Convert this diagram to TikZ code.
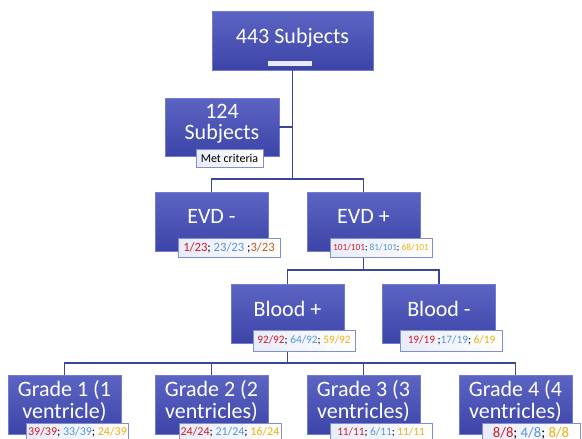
\documentclass[tikz,border=0pt]{standalone}
\usepackage{fontspec}
\setmainfont{Carlito}
\usetikzlibrary{positioning}
\definecolor{boxtop}{RGB}{92,100,195}
\definecolor{boxbot}{RGB}{60,68,168}
\definecolor{boxrim}{RGB}{112,124,208}
\definecolor{linkblue}{RGB}{58,70,150}
\definecolor{tagrim}{RGB}{128,142,212}
\definecolor{tagtint}{RGB}{232,236,250}
\definecolor{cntred}{RGB}{210,28,36}
\definecolor{cntblue}{RGB}{86,150,215}
\definecolor{cntgold}{RGB}{238,178,10}
\definecolor{cntrust}{RGB}{196,92,22}
\newcommand{\numred}[1]{\textcolor{cntred}{#1}}
\newcommand{\numblue}[1]{\textcolor{cntblue}{#1}}
\newcommand{\numgold}[1]{\textcolor{cntgold}{#1}}
\newcommand{\numrust}[1]{\textcolor{cntrust}{#1}}
\newcommand{\liftstrut}{\rule[-0.45em]{0pt}{1.1em}}

\begin{document}
\begin{tikzpicture}[
    x=0.75pt, y=-0.75pt,
    sbox/.style={draw=boxrim, line width=0.6pt, top color=boxtop, bottom color=boxbot,
                 text=white, font=\fontsize{16.5}{16}\selectfont, align=center,
                 minimum width=84.75pt, minimum height=44.25pt, inner sep=1pt,
                 execute at end node=\liftstrut},
    tag/.style={draw=tagrim, line width=0.6pt, left color=tagtint, right color=white,
                minimum width=76.5pt, minimum height=14.25pt, inner sep=0pt},
    link/.style={draw=linkblue, line width=0.8pt}
  ]
    \useasboundingbox (0,0) rectangle (582,439);
    \clip (0,0) rectangle (582,439);

    % boxes of the tree
    \node[sbox, minimum width=120.75pt] (total)  at (292.5,40.5) {443 Subjects};
    \node[sbox, minimum width=85.5pt, minimum height=43.5pt] (met) at (222,127) {124\\Subjects};
    \node[sbox] (evdn)  at (211.5,221.5) {EVD -};
    \node[sbox] (evdp)  at (363.5,221.5) {EVD +};
    \node[sbox] (bldp)  at (287.5,313.5) {Blood +};
    \node[sbox] (bldn)  at (439,313.5)   {Blood -};
    \node[sbox] (grade1) at (64.5,404.5)  {Grade 1 (1\\ventricle)};
    \node[sbox] (grade2) at (211.5,404.5) {Grade 2 (2\\ventricles)};
    \node[sbox] (grade3) at (363.5,404.5) {Grade 3 (3\\ventricles)};
    \node[sbox] (grade4) at (515.5,404.5) {Grade 4 (4\\ventricles)};
    \node[fill=tagtint, minimum width=33pt, minimum height=3.75pt, inner sep=0pt] (bar) at (290,63.5) {};

    % connectors
    \coordinate (split1) at (292.5,179);
    \coordinate (split2) at (363.5,270);
    \coordinate (split3) at (287.5,363);
    \draw[link] (total.south) -- (split1);
    \draw[link] (met.east) -- (met.east -| total.south);
    \draw[link] (evdn.north) |- (split1) -| (evdp.north);
    \draw[link] (evdp.south) -- (split2);
    \draw[link] (bldp.north) |- (split2) -| (bldn.north);
    \draw[link] (bldp.south) -- (split3);
    \draw[link] (grade1.north) |- (split3) -| (grade4.north);
    \foreach \g in {grade2, grade3}
      \draw[link] (\g.north) |- (split3);

    % count tags
    \node[tag, minimum width=50.25pt, minimum height=13.5pt, fill=white, font=\fontsize{9}{9}\selectfont]
      (metnote) at (229.5,158) {Met criteria};
    \node[tag, font=\fontsize{9.5}{9.5}\selectfont] (evdntag) at (229,247.5)
      {\numred{1/23}; \numblue{23/23} ;\numrust{3/23}};
    \node[tag, font=\fontsize{7}{7}\selectfont] (evdptag) at (381,247.5)
      {\numred{101/101}; \numblue{81/101}; \numgold{68/101}};
    \node[tag, minimum height=15.75pt, font=\fontsize{8.5}{8.5}\selectfont] (bldptag) at (304,340.5)
      {\numred{92/92}; \numblue{64/92}; \numgold{59/92}};
    \node[tag, minimum height=15.75pt, font=\fontsize{8.5}{8.5}\selectfont] (bldntag) at (451.5,340.5)
      {\numred{19/19} ;\numblue{17/19}; \numgold{6/19}};
    \node[tag, font=\fontsize{9}{9}\selectfont] (grade1tag) at (77.5,432.5)
      {\numred{39/39}; \numblue{33/39}; \numgold{24/39}};
    \node[tag, font=\fontsize{9}{9}\selectfont] (grade2tag) at (230,432.5)
      {\numred{24/24}; \numblue{21/24}; \numgold{16/24}};
    \node[tag, font=\fontsize{8.5}{8.5}\selectfont] (grade3tag) at (381,432.5)
      {\numred{11/11}; \numblue{6/11}; \numgold{11/11}};
    \node[tag, minimum width=73.5pt, font=\fontsize{11}{11}\selectfont] (grade4tag) at (531,433)
      {\raisebox{1.5pt}{\numred{8/8}; \numblue{4/8}; \numgold{8/8}}};
\end{tikzpicture}
\end{document}
